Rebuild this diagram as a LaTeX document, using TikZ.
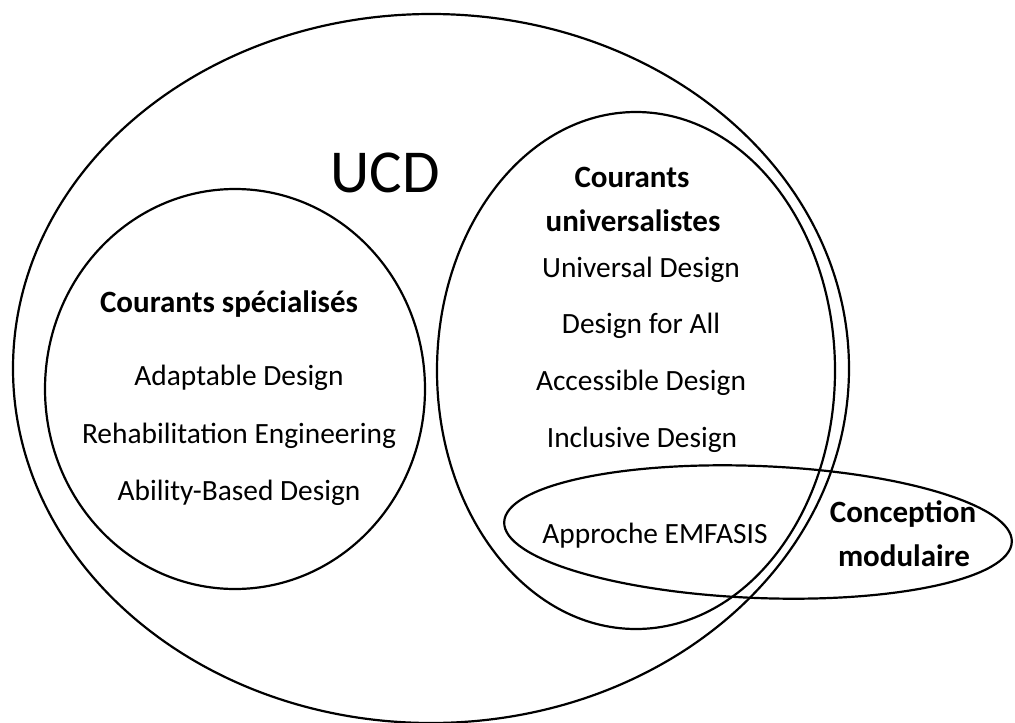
\documentclass[tikz,border=0pt]{standalone}
\usepackage{fontspec}
\setmainfont{Carlito}
\begin{document}
\begin{tikzpicture}[x=1pt,y=-1pt,
  set/.style={draw=black,line width=2.2pt},
  reg/.style={inner sep=0pt,font=\fontsize{29.4}{35}\selectfont},
  hd/.style={inner sep=0pt,font=\fontsize{31}{37}\selectfont\bfseries},
  big/.style={inner sep=0pt,font=\fontsize{61}{72}\selectfont}]
\useasboundingbox (0,0) rectangle (1015,723);
% sets
\draw[set] (431,368.5) ellipse [x radius=418, y radius=354.5];
\draw[set] (235,389) ellipse [x radius=190, y radius=200];
\draw[set] (636,370.5) ellipse [x radius=199, y radius=258.5];
\draw[set, rotate around={-2.25:(758,532)}] (758,532) ellipse [x radius=254, y radius=66];
% labels
\node[big] (ucd) at (385,173) {UCD};
\node[hd] (spec) at (229,304) {Courants spécialisés};
\node[reg] (adapt) at (239,378) {Adaptable Design};
\node[reg] (rehab) at (239,436) {Rehabilitation Engineering};
\node[reg] (abil) at (239,493) {Ability-Based Design};
\node[hd] (cour) at (632,177) {Courants};
\node[hd] (univ) at (633,221) {universalistes};
\node[reg] (ud) at (641,270) {Universal Design};
\node[reg] (dfa) at (641,326) {Design for All};
\node[reg] (acc) at (641,383) {Accessible Design};
\node[reg] (inc) at (642,440) {Inclusive Design};
\node[reg] (emf) at (655,536) {Approche EMFASIS};
\node[hd] (conc) at (903,514) {Conception};
\node[hd] (mod) at (904,556) {modulaire};
\end{tikzpicture}
\end{document}
